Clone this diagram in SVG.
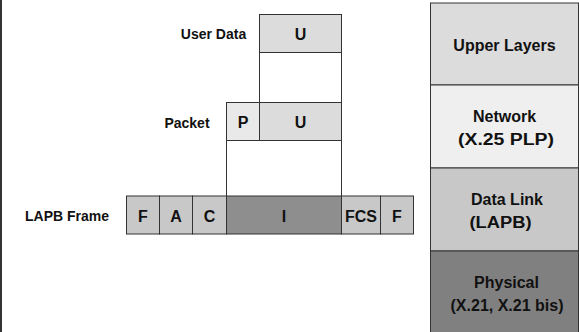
<svg xmlns="http://www.w3.org/2000/svg" width="579" height="332" viewBox="0 0 579 332">
<style>
.b{stroke:#333;stroke-width:1}
.t{font-family:"Liberation Sans",Arial,sans-serif;fill:#111;text-anchor:middle;font-weight:bold}
.lab{font-size:14px}
.box{font-size:16px}
.lay{font-size:16px}
.ln{stroke:#333;stroke-width:1;fill:none}
</style>
<rect x="0" y="0" width="579" height="332" fill="#fff"/>
<line x1="1" y1="0" x2="1" y2="332" stroke="#333" stroke-width="2"/>
<g id="labels">
<text class="t lab" x="213.5" y="39">User Data</text>
<text class="t lab" x="187" y="127.5">Packet</text>
<text class="t lab" x="67" y="221">LAPB Frame</text>
</g>
<g id="connectors">
<line class="ln" x1="259.5" y1="52" x2="259.5" y2="102"/>
<line class="ln" x1="341.5" y1="52" x2="341.5" y2="102"/>
<line class="ln" x1="226.5" y1="140" x2="226.5" y2="196"/>
<line class="ln" x1="341.5" y1="140" x2="341.5" y2="196"/>
</g>
<g id="userdata">
<rect class="b" x="259.5" y="14.5" width="82" height="38" fill="#dcdcdc"/>
<text class="t box" x="300.5" y="39.5">U</text>
</g>
<g id="packet">
<rect class="b" x="226.5" y="102.5" width="33" height="38" fill="#e9e9e9"/>
<text class="t box" x="243" y="128">P</text>
<rect class="b" x="259.5" y="102.5" width="82" height="38" fill="#dcdcdc"/>
<text class="t box" x="300.5" y="128">U</text>
</g>
<g id="frame">
<rect class="b" x="126.5" y="196" width="33" height="38" fill="#c8c8c8"/>
<text class="t box" x="143" y="221.5">F</text>
<rect class="b" x="159.5" y="196" width="33" height="38" fill="#c8c8c8"/>
<text class="t box" x="176" y="221.5">A</text>
<rect class="b" x="192.5" y="196" width="34" height="38" fill="#c8c8c8"/>
<text class="t box" x="209.5" y="221.5">C</text>
<rect class="b" x="226.5" y="196" width="115" height="38" fill="#8e8e8e"/>
<text class="t box" x="284" y="221.5">I</text>
<rect class="b" x="341.5" y="196" width="39" height="38" fill="#c8c8c8"/>
<text class="t box" x="361" y="221.5">FCS</text>
<rect class="b" x="380.5" y="196" width="33" height="38" fill="#c8c8c8"/>
<text class="t box" x="397" y="221.5">F</text>
</g>
<g id="upper">
<rect class="b" x="430.5" y="3" width="148" height="82" fill="#dcdcdc"/>
<text class="t lay" x="504.5" y="51">Upper Layers</text>
</g>
<g id="network">
<rect class="b" x="430.5" y="85" width="148" height="83" fill="#efefef"/>
<text class="t lay" x="504.5" y="122">Network</text>
<text class="t lay" x="506" y="145" textLength="96" lengthAdjust="spacingAndGlyphs">(X.25 PLP)</text>
</g>
<g id="datalink">
<rect class="b" x="430.5" y="168" width="148" height="83" fill="#c8c8c8"/>
<text class="t lay" x="507" y="205">Data Link</text>
<text class="t lay" x="500.5" y="228" textLength="62" lengthAdjust="spacingAndGlyphs">(LAPB)</text>
</g>
<g id="physical">
<rect class="b" x="430.5" y="251" width="148" height="85" fill="#808080"/>
<text class="t lay" x="506.5" y="288">Physical</text>
<text class="t lay" x="507" y="311">(X.21, X.21 bis)</text>
</g>
</svg>
